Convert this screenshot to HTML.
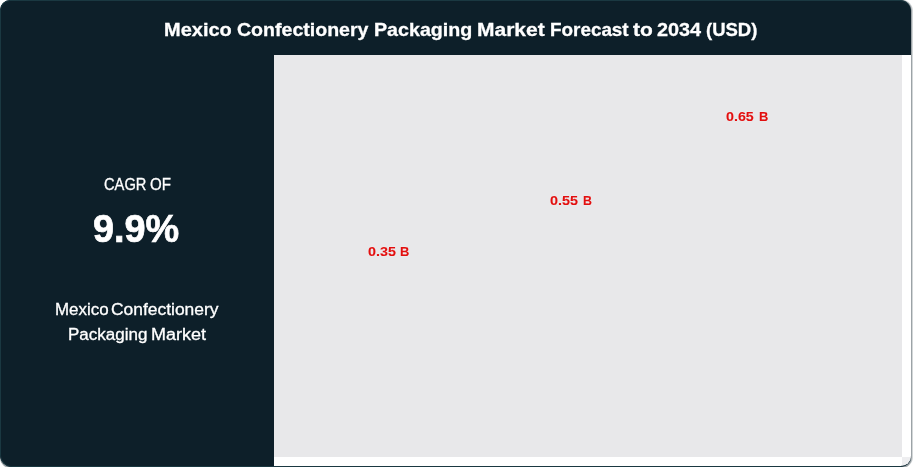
<!DOCTYPE html>
<html><head><meta charset="utf-8">
<style>
html,body{margin:0;padding:0;}
h1{margin:0;padding:0;font-size:inherit;font-weight:inherit;}
body{width:913px;height:467px;background:#fff;overflow:hidden;position:relative;font-family:"Liberation Sans",sans-serif;}
#edgeA{position:absolute;left:0;top:0;width:913px;height:468px;background:#d3d7d8;border-radius:11px;}
#edgeB{position:absolute;left:0;top:0;width:912px;height:467.5px;background:#9ca3a7;border-radius:10.5px;}
#card{position:absolute;left:0;top:0;width:911px;height:467px;background:#0d1f29;border-radius:10px 11px 10px 12px;overflow:hidden;}
#white{position:absolute;left:274px;top:55px;width:637px;height:411px;background:#fff;border-bottom-right-radius:10px;}
#rim{position:absolute;left:0;top:0;width:911px;height:467px;box-sizing:border-box;border:1px solid #1a3841;border-right-width:0;border-radius:10px 11px 10px 12px;}
#corner{position:absolute;left:902px;top:457px;width:9px;height:9px;background:#eeeef0;border-bottom-right-radius:10px;}
#plot{position:absolute;left:274px;top:55px;width:628px;height:402px;background:#e8e8ea;}
.w{position:absolute;line-height:1;white-space:pre;color:#fff;transform-origin:0 0;}
.b{font-weight:bold;-webkit-text-stroke:0.3px #fff;}
.big{-webkit-text-stroke:0.7px #fff;}
.r{font-weight:normal;-webkit-text-stroke:0.3px #fff;}
.d{color:#e10f0f;-webkit-text-stroke:0.12px #e10f0f;text-shadow:0 0 1px #fff;}
</style></head><body>
<div id="edgeA"></div>
<div id="edgeB"></div>
<div id="card">
<div id="white"></div>
<div id="plot"></div>
<div id="corner"></div>
<h1 class="title">
<span class="w b" style="left:163.71px;top:19.8px;font-size:19px;transform:scaleX(1.0519)">Mexico</span>
<span class="w b" style="left:237.02px;top:19.8px;font-size:19px;transform:scaleX(1.029)">Confectionery</span>
<span class="w b" style="left:373.83px;top:19.8px;font-size:19px;transform:scaleX(1.0346)">Packaging</span>
<span class="w b" style="left:477.04px;top:19.8px;font-size:19px;transform:scaleX(1.1058)">Market</span>
<span class="w b" style="left:549.78px;top:19.8px;font-size:19px;transform:scaleX(0.993)">Forecast</span>
<span class="w b" style="left:633.08px;top:19.8px;font-size:19px;transform:scaleX(1.1041)">to</span>
<span class="w b" style="left:657.38px;top:19.8px;font-size:19px;transform:scaleX(1.0435)">2034</span>
<span class="w b" style="left:706.47px;top:19.8px;font-size:19px;transform:scaleX(0.974)">(USD)</span>
</h1>
<div class="cagr-label">
<span class="w r" style="left:103.96px;top:176.6px;font-size:16px;transform:scaleX(0.9174)">CAGR</span>
<span class="w r" style="left:149.79px;top:176.6px;font-size:16px;transform:scaleX(0.9411)">OF</span>
</div>
<div class="cagr-value">
<span class="w b big" style="left:93.41px;top:209.5px;font-size:38px;transform:scaleX(0.9957)">9.9%</span>
</div>
<div class="market-name">
<span class="w r" style="left:54.76px;top:301.7px;font-size:16px;transform:scaleX(1.0575)">Mexico</span>
<span class="w r" style="left:111.42px;top:301.7px;font-size:16px;transform:scaleX(1.0892)">Confectionery</span>
<span class="w r" style="left:67.65px;top:326.8px;font-size:16px;transform:scaleX(1.0639)">Packaging</span>
<span class="w r" style="left:150.87px;top:326.8px;font-size:16px;transform:scaleX(1.1261)">Market</span>
</div>
<div class="value-label">
<span class="w b d" style="left:368.28px;top:245.4px;font-size:13.5px;transform:scaleX(1.0613)">0.35</span>
<span class="w b d" style="left:400.47px;top:245.4px;font-size:13.5px;transform:scaleX(0.9566)">B</span>
</div>
<div class="value-label">
<span class="w b d" style="left:550.28px;top:194.4px;font-size:13.5px;transform:scaleX(1.0653)">0.55</span>
<span class="w b d" style="left:582.51px;top:194.4px;font-size:13.5px;transform:scaleX(0.9202)">B</span>
</div>
<div class="value-label">
<span class="w b d" style="left:726.08px;top:110.4px;font-size:13.5px;transform:scaleX(1.0574)">0.65</span>
<span class="w b d" style="left:758.67px;top:110.4px;font-size:13.5px;transform:scaleX(0.9566)">B</span>
</div>

<div id="rim"></div>
</div>
</body></html>
